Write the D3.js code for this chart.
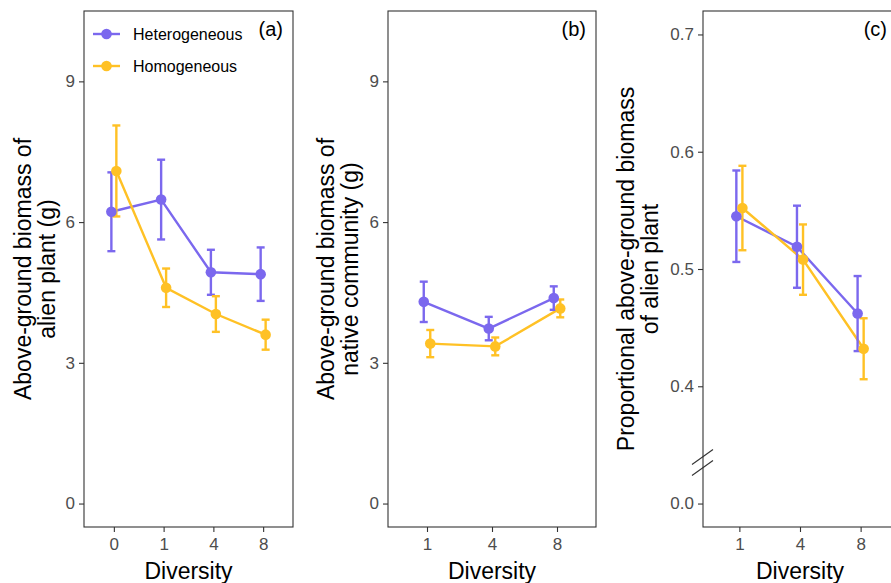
<!DOCTYPE html>
<html>
<head>
<meta charset="utf-8">
<style>
  body { margin: 0; background: #fff; }
  svg { display: block; font-family: Arial, "Liberation Sans", sans-serif; }
  .tick text { fill: #4d4d4d; font-size: 17px; }
  .tick line { stroke: #333; stroke-width: 1.1px; }
  .title { font-size: 23px; fill: #000; }
  .panel-label { font-size: 20px; fill: #000; }
  .legend text { font-size: 16px; fill: #000; }
</style>
</head>
<body>
<svg width="891" height="583"></svg>

<script src="https://cdn.jsdelivr.net/npm/d3@7"></script>
<script>
// ---- data (mean and standard error) ----
const diversityA = ["0", "1", "4", "8"];
const diversityBC = ["1", "4", "8"];

// (a) alien plant biomass (g)
const hetAlienMean = [6.22, 6.48, 4.93, 4.89];
const hetAlienSe   = [0.84, 0.85, 0.48, 0.57];
const homAlienMean = [7.09, 4.60, 4.04, 3.60];
const homAlienSe   = [0.97, 0.41, 0.38, 0.32];

// (b) native community biomass (g)
const hetNativeMean = [4.30, 3.73, 4.38];
const hetNativeSe   = [0.43, 0.25, 0.25];
const homNativeMean = [3.41, 3.35, 4.16];
const homNativeSe   = [0.29, 0.19, 0.19];

// (c) proportional biomass of alien plant
const hetPropMean = [0.545, 0.519, 0.462];
const hetPropSe   = [0.039, 0.035, 0.032];
const homPropMean = [0.552, 0.508, 0.432];
const homPropSe   = [0.036, 0.030, 0.026];

const yTicksAB = [0, 3, 6, 9];
// panel (c) has a broken axis: the bottom tick sits at 0.3 but is labelled 0.0
const yTicksC = [0.3, 0.4, 0.5, 0.6, 0.7];
const yTickLabelsC = ["0.0", "0.4", "0.5", "0.6", "0.7"];

const seriesNames = ["Heterogeneous", "Homogeneous"];
const colors = { Heterogeneous: "#7b68ee", Homogeneous: "#ffc125" };

const svg = d3.select("svg");
const panelTop = 11, panelBottom = 527;

function drawPanel(opt) {
  const g = svg.append("g");

  const x = d3.scalePoint()
    .domain(opt.categories)
    .range([opt.left, opt.right])
    .padding(0.6);
  const y = d3.scaleLinear()
    .domain(opt.yDomain)
    .range([panelBottom, panelTop]);
  const dodge = x.step() * 0.05;

  // panel border
  g.append("rect")
    .attr("x", opt.left).attr("y", panelTop)
    .attr("width", opt.right - opt.left).attr("height", panelBottom - panelTop)
    .attr("fill", "none").attr("stroke", "#333").attr("stroke-width", 1.1);

  // axes
  const yAxis = d3.axisLeft(y).tickValues(opt.yTicks).tickSize(5).tickPadding(4);
  if (opt.yLabels) yAxis.tickFormat((d, i) => opt.yLabels[i]);
  g.append("g").attr("transform", `translate(${opt.left},0)`).call(yAxis)
    .call(a => a.select(".domain").remove());

  g.append("g").attr("transform", `translate(0,${panelBottom})`)
    .call(d3.axisBottom(x).tickSize(5).tickPadding(6))
    .call(a => a.select(".domain").remove());

  // build series
  const series = seriesNames.map((name, k) => ({
    name: name,
    off: k === 0 ? -dodge : dodge,
    pts: opt.categories.map((c, i) => ({ c: c, m: opt.means[k][i], se: opt.ses[k][i] }))
  }));

  const line = d3.line()
    .x(d => x(d.c))
    .y(d => y(d.m));

  // lines
  series.forEach(s => {
    g.append("path")
      .datum(s.pts)
      .attr("transform", `translate(${s.off},0)`)
      .attr("d", line)
      .attr("fill", "none")
      .attr("stroke", colors[s.name])
      .attr("stroke-width", 2.4);
  });

  // error bars
  series.forEach(s => {
    const eb = g.append("g").attr("stroke", colors[s.name]).attr("stroke-width", 2.4);
    s.pts.forEach(d => {
      const cx = x(d.c) + s.off;
      eb.append("line").attr("x1", cx).attr("x2", cx)
        .attr("y1", y(d.m - d.se)).attr("y2", y(d.m + d.se));
      [d.m - d.se, d.m + d.se].forEach(v => {
        eb.append("line").attr("x1", cx - 4).attr("x2", cx + 4)
          .attr("y1", y(v)).attr("y2", y(v));
      });
    });
  });

  // points
  series.forEach(s => {
    g.selectAll(null)
      .data(s.pts)
      .enter()
      .append("circle")
      .attr("cx", d => x(d.c) + s.off)
      .attr("cy", d => y(d.m))
      .attr("r", 5.3)
      .attr("fill", colors[s.name]);
  });

  // panel letter
  g.append("text")
    .attr("class", "panel-label")
    .attr("x", opt.right - 10).attr("y", 36)
    .attr("text-anchor", "end")
    .text(opt.label);

  // axis titles
  g.append("text")
    .attr("class", "title")
    .attr("x", (opt.left + opt.right) / 2).attr("y", 579)
    .attr("text-anchor", "middle")
    .text("Diversity");

  const midY = (panelTop + panelBottom) / 2;
  opt.yTitle.forEach((t, i) => {
    g.append("text")
      .attr("class", "title")
      .attr("transform", `translate(${opt.titleX + i * 24},${midY}) rotate(-90)`)
      .attr("text-anchor", "middle")
      .text(t);
  });

  return { g: g, x: x, y: y };
}

// (a)
const pa = drawPanel({
  left: 84, right: 293, categories: diversityA,
  yDomain: [-0.5, 10.5], yTicks: yTicksAB,
  means: [hetAlienMean, homAlienMean], ses: [hetAlienSe, homAlienSe],
  label: "(a)", titleX: 31,
  yTitle: ["Above-ground biomass of", "alien plant (g)"]
});

// (b)
drawPanel({
  left: 388, right: 596, categories: diversityBC,
  yDomain: [-0.5, 10.5], yTicks: yTicksAB,
  means: [hetNativeMean, homNativeMean], ses: [hetNativeSe, homNativeSe],
  label: "(b)", titleX: 334,
  yTitle: ["Above-ground biomass of", "native community (g)"]
});

// (c) runs off the right edge of the picture
const pc = drawPanel({
  left: 703, right: 897, categories: diversityBC,
  yDomain: [0.28, 0.72], yTicks: yTicksC, yLabels: yTickLabelsC,
  means: [hetPropMean, homPropMean], ses: [hetPropSe, homPropSe],
  label: "(c)", titleX: 634,
  yTitle: ["Proportional above-ground biomass", "of alien plant"]
});

// axis break marks on (c)
const breakY = pc.y(0.335);
[-5.5, 5.5].forEach(dy => {
  pc.g.append("line")
    .attr("x1", 692).attr("x2", 713)
    .attr("y1", breakY + dy + 7.5).attr("y2", breakY + dy - 7.5)
    .attr("stroke", "#333").attr("stroke-width", 1.1);
});

// legend inside (a)
const legend = pa.g.append("g").attr("class", "legend");
seriesNames.forEach((name, i) => {
  const ly = 34 + i * 32;
  legend.append("line")
    .attr("x1", 93).attr("x2", 120).attr("y1", ly).attr("y2", ly)
    .attr("stroke", colors[name]).attr("stroke-width", 2.4);
  legend.append("circle")
    .attr("cx", 106.5).attr("cy", ly).attr("r", 5.3)
    .attr("fill", colors[name]);
  legend.append("text")
    .attr("x", 133).attr("y", ly)
    .attr("dy", "0.35em")
    .text(name);
});
</script>
</body>
</html>
